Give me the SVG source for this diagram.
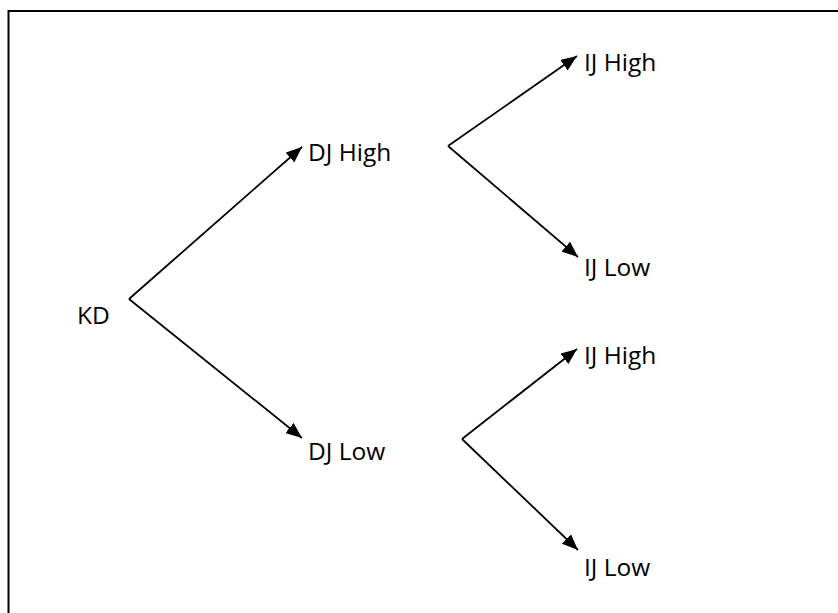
<svg xmlns="http://www.w3.org/2000/svg" width="838" height="613" viewBox="0 0 838 613">
  <style>
    .lbl { font-family: "Open Sans", "Liberation Sans", sans-serif; font-size: 24.5px; fill: #000; }
    .edge { stroke: #000; stroke-width: 1.8; fill: none; marker-end: url(#arrow); }
  </style>
  <defs>
    <marker id="arrow" markerUnits="userSpaceOnUse" markerWidth="16" markerHeight="13" refX="16" refY="6.5" orient="auto">
      <path d="M0,0 L16,6.5 L0,13 Z" fill="#000"/>
    </marker>
  </defs>
  <rect x="0" y="0" width="838" height="613" fill="#fff"/>
  <rect id="frame" x="8.5" y="11" width="840" height="620" fill="none" stroke="#000" stroke-width="2"/>

  <g id="connectors">
    <line class="edge" x1="129" y1="299" x2="302" y2="147"/>
    <line class="edge" x1="129" y1="299" x2="302" y2="438"/>
    <line class="edge" x1="448" y1="146" x2="577" y2="56"/>
    <line class="edge" x1="448" y1="146" x2="578" y2="257"/>
    <line class="edge" x1="462" y1="439" x2="577" y2="349"/>
    <line class="edge" x1="462" y1="439" x2="578" y2="550"/>
  </g>

  <g id="kd"><text class="lbl" x="77" y="324">KD</text></g>
  <g id="dj-high"><text class="lbl" x="308" y="161">DJ High</text></g>
  <g id="dj-low"><text class="lbl" x="308" y="460">DJ Low</text></g>
  <g id="ij-high-1"><text class="lbl" x="584" y="71">IJ High</text></g>
  <g id="ij-low-1"><text class="lbl" x="584" y="276">IJ Low</text></g>
  <g id="ij-high-2"><text class="lbl" x="584" y="364">IJ High</text></g>
  <g id="ij-low-2"><text class="lbl" x="584" y="576">IJ Low</text></g>
</svg>
